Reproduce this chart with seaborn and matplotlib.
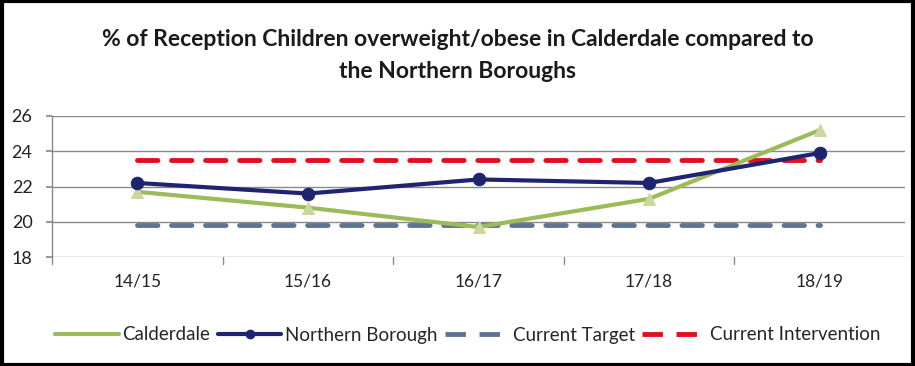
import matplotlib
matplotlib.use("Agg")
import matplotlib.pyplot as plt
import seaborn as sns
import pandas as pd
from matplotlib.patches import Rectangle
from matplotlib.lines import Line2D

years = ["14/15", "15/16", "16/17", "17/18", "18/19"]
calderdale = [21.7, 20.8, 19.7, 21.3, 25.2]
northern_borough = [22.2, 21.6, 22.4, 22.2, 23.9]
current_target = [19.8, 19.8, 19.8, 19.8, 19.8]
current_intervention = [23.5, 23.5, 23.5, 23.5, 23.5]
y_ticks = [18, 20, 22, 24, 26]

sns.set_theme(style="white")
plt.rcParams["font.family"] = ["Lato", "DejaVu Sans"]

pos = list(range(len(years)))
df = pd.DataFrame({
    "pos": pos * 4,
    "value": calderdale + northern_borough + current_target + current_intervention,
    "series": (["Calderdale"] * 5 + ["Northern Borough"] * 5
               + ["Current Target"] * 5 + ["Current Intervention"] * 5),
})

fig = plt.figure(figsize=(9.15, 3.66), dpi=100)
ax = fig.add_axes([52 / 915, 1 - 257 / 366, (905 - 52) / 915, (257 - 116) / 366])

palette = {
    "Calderdale": "#9BBB59",
    "Northern Borough": "#1F2470",
    "Current Target": "#5F7493",
    "Current Intervention": "#E0101E",
}
dash = (0, (4.2, 2.8))

sns.lineplot(data=df[df.series == "Current Target"], x="pos", y="value", ax=ax,
             color=palette["Current Target"], lw=3.5, label="_t")
sns.lineplot(data=df[df.series == "Current Intervention"], x="pos", y="value", ax=ax,
             color=palette["Current Intervention"], lw=3.5, label="_i")
sns.lineplot(data=df[df.series == "Calderdale"], x="pos", y="value", ax=ax,
             color=palette["Calderdale"], lw=3, marker="^", markersize=8,
             markerfacecolor="#C9D99E", markeredgecolor="#C9D99E", label="_c")
sns.lineplot(data=df[df.series == "Northern Borough"], x="pos", y="value", ax=ax,
             color=palette["Northern Borough"], lw=3, marker="o", markersize=9,
             markeredgecolor=palette["Northern Borough"], label="_n")

for line in ax.lines[:2]:
    line.set_linestyle(dash)
    line.set_dash_capstyle("round")

ax.set_xlim(-0.5, 4.5)
ax.set_ylim(18, 26)
ax.set_yticks(y_ticks)
ax.set_yticklabels([str(t) for t in y_ticks], fontsize=13, color="#222222")
ax.set_xticks(pos)
ax.set_xticklabels(years, fontsize=12.5, color="#222222")
ax.set_xlabel("")
ax.set_ylabel("")
ax.grid(axis="y", color="#8A8A8A", lw=1)
ax.set_axisbelow(True)
for s in ["top", "right", "bottom"]:
    ax.spines[s].set_visible(False)
ax.spines["left"].set_color("#8A8A8A")
ax.spines["left"].set_linewidth(1)
ax.tick_params(axis="y", length=4, color="#8A8A8A", pad=10, left=True)
ax.tick_params(axis="x", length=0, pad=12)
for b in [-0.5, 0.5, 1.5, 2.5, 3.5]:
    ax.plot([b, b], [17.6, 18], color="#8A8A8A", lw=1, clip_on=False)

fig.text(0.5, 1 - 40 / 366, "% of Reception Children overweight/obese in Calderdale compared to",
         ha="center", va="center", fontsize=16.5, fontweight="bold", color="#1A1A1A")
fig.text(0.5, 1 - 72 / 366, "the Northern Boroughs",
         ha="center", va="center", fontsize=16.5, fontweight="bold", color="#1A1A1A")

handles = [
    Line2D([], [], color=palette["Calderdale"], lw=3),
    Line2D([], [], color=palette["Northern Borough"], lw=3, marker="o", markersize=6),
    Line2D([], [], color=palette["Current Target"], lw=3.5, linestyle=(0, (4.2, 2.8))),
    Line2D([], [], color=palette["Current Intervention"], lw=3.5, linestyle=(0, (4.2, 2.8))),
]
labels = ["Calderdale", "Northern Borough", "Current Target", "Current Intervention"]
fig.legend(handles, labels, loc="center", bbox_to_anchor=(0.511, 1 - 335 / 366), ncol=4,
           frameon=False, fontsize=13.5, handlelength=3.4, handletextpad=0.2,
           columnspacing=0.4)

fig.add_artist(Rectangle((0.002, 0.004), 0.996, 0.992, transform=fig.transFigure,
                         fill=False, edgecolor="black", lw=3))

fig.savefig("out.png", dpi=100, facecolor="white")
